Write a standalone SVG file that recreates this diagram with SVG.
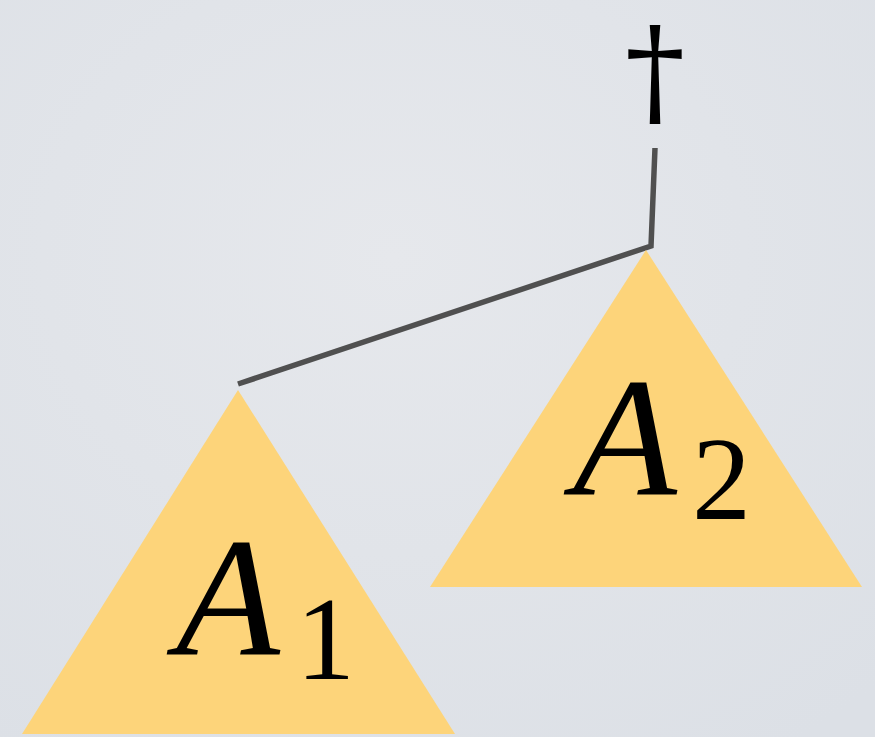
<svg xmlns="http://www.w3.org/2000/svg" width="875" height="737" viewBox="0 0 875 737">
<defs>
<radialGradient id="bg" cx="0.45" cy="0.35" r="0.8">
<stop offset="0" stop-color="#e6e8ec"/>
<stop offset="1" stop-color="#dce0e6"/>
</radialGradient>
<style>
.tri{fill:#fdd47a}
.conn{fill:none;stroke:#505050;stroke-width:5.5;stroke-linejoin:miter}
.lbl{font-family:"Liberation Serif","DejaVu Serif",serif;fill:#000}
.dag{font-family:"DejaVu Serif","Liberation Serif",serif;fill:#000}
</style>
</defs>
<rect x="0" y="0" width="875" height="737" fill="url(#bg)"/>
<g id="connectors">
<polyline class="conn" points="655,148 651,246 238,384"/>
</g>
<g id="root">
<text class="dag" x="655" y="112" font-size="120" text-anchor="middle">†</text>
</g>
<g id="A2">
<polygon class="tri" points="646,250 430,587 862,587"/>
<text class="lbl" x="573" y="495" font-size="170" font-style="italic">A</text>
<text class="lbl" x="692" y="519" font-size="118">2</text>
</g>
<g id="A1">
<polygon class="tri" points="238,390 22,734 455,734"/>
<text class="lbl" x="176" y="655" font-size="170" font-style="italic">A</text>
<text class="lbl" x="296" y="679" font-size="118">1</text>
</g>
</svg>
